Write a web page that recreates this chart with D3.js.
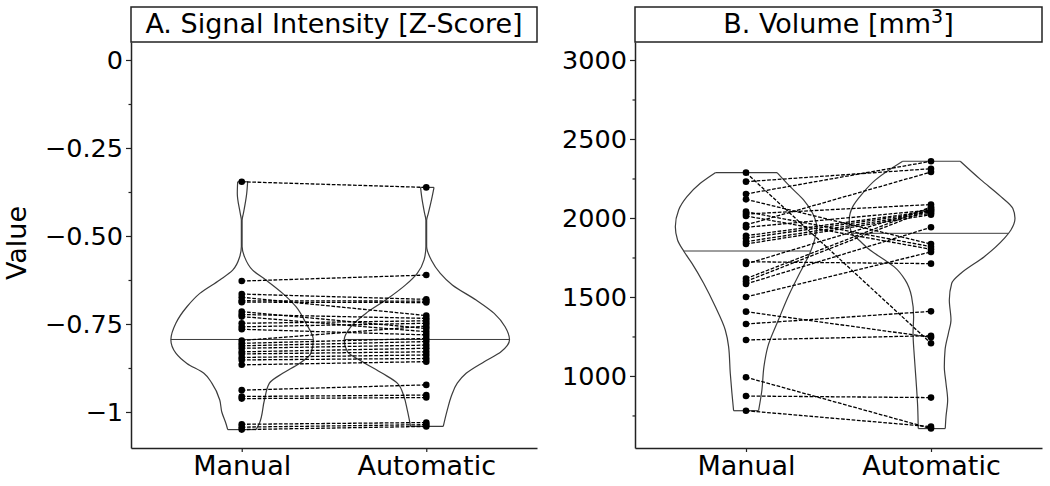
<!DOCTYPE html>
<html>
<head>
<meta charset="utf-8">
<script src="https://cdn.jsdelivr.net/npm/d3@7"></script>
<style>
  html, body { margin: 0; padding: 0; background: #fff; }
  svg { display: block; font-family: "DejaVu Sans", sans-serif; }
</style>
</head>
<body>
<div id="chart"></div>
<script>
// categories (x axis)
const categories = ["Manual", "Automatic"];

// A. signal intensity, paired by subject (manual[i] <-> automatic[i])
const signalManual = [-0.346, -0.628, -0.665, -0.674, -0.684, -0.688, -0.715, -0.723, -0.729,
  -0.748, -0.758, -0.765, -0.797, -0.805, -0.812, -0.819, -0.829, -0.835, -0.845, -0.852,
  -0.866, -0.938, -0.956, -0.962, -1.035, -1.043, -1.050];
const signalAutomatic = [-0.362, -0.611, -0.680, -0.726, -0.685, -0.689, -0.763, -0.734, -0.772,
  -0.741, -0.748, -0.781, -0.756, -0.791, -0.800, -0.810, -0.819, -0.829, -0.838, -0.848,
  -0.857, -0.923, -0.952, -0.959, -1.030, -1.036, -1.041];
const signalCentre = [-0.794, -0.794];
const signalTicks = [0, -0.25, -0.5, -0.75, -1];
const signalTickLabels = ["0", "\u22120.25", "\u22120.50", "\u22120.75", "\u22121"];
const signalMinor = [-0.125, -0.375, -0.625, -0.875];

// B. volume, paired by subject
const volumeManual = [2287, 2230, 2152, 2118, 2040, 2025, 2013, 1956, 1941, 1888, 1872, 1850,
  1835, 1723, 1709, 1616, 1599, 1582, 1500, 1407, 1329, 1228, 992, 873, 780];
const volumeAutomatic = [1207, 2312, 2359, 1835, 1818, 2085, 1802, 2291, 2050, 2044, 2038, 2030,
  2021, 1711, 2063, 2070, 2056, 1941, 1785, 1245, 1409, 1255, 667, 863, 679];
const volumeCentre = [1791, 1903];
const volumeTicks = [3000, 2500, 2000, 1500, 1000];
const volumeTickLabels = ["3000", "2500", "2000", "1500", "1000"];
const volumeMinor = [2750, 2250, 1750, 1250, 750];

// violin half outlines: [value, half width in category units]
const signalManualLeft = [[-0.346, 0.022], [-0.379, 0.024], [-0.436, 0.008], [-0.455, 0.002],
  [-0.530, 0.002], [-0.559, 0.011], [-0.597, 0.049], [-0.625, 0.119], [-0.663, 0.227],
  [-0.701, 0.297], [-0.748, 0.357], [-0.795, 0.384], [-0.833, 0.357], [-0.862, 0.297],
  [-0.890, 0.205], [-0.918, 0.162], [-0.966, 0.119], [-1.000, 0.108], [-1.032, 0.086],
  [-1.050, 0.076]];
const signalManualRight = [[-0.346, 0.032], [-0.379, 0.027], [-0.436, 0.009], [-0.455, 0.002],
  [-0.530, 0.002], [-0.559, 0.015], [-0.597, 0.059], [-0.625, 0.131], [-0.663, 0.222],
  [-0.701, 0.294], [-0.748, 0.348], [-0.795, 0.388], [-0.833, 0.375], [-0.862, 0.312],
  [-0.890, 0.222], [-0.918, 0.150], [-0.966, 0.123], [-1.032, 0.096], [-1.050, 0.077]];
const signalAutoLeft = [[-0.362, 0.031], [-0.388, 0.025], [-0.436, 0.009], [-0.455, 0.002],
  [-0.530, 0.002], [-0.568, 0.012], [-0.606, 0.049], [-0.639, 0.112], [-0.682, 0.220],
  [-0.720, 0.328], [-0.758, 0.409], [-0.795, 0.445], [-0.829, 0.427], [-0.857, 0.346],
  [-0.890, 0.238], [-0.918, 0.157], [-0.956, 0.121], [-0.994, 0.103], [-1.041, 0.085]];
const signalAutoRight = [[-0.362, 0.042], [-0.388, 0.032], [-0.436, 0.011], [-0.455, 0.002],
  [-0.530, 0.002], [-0.568, 0.027], [-0.606, 0.076], [-0.639, 0.141], [-0.682, 0.270],
  [-0.720, 0.368], [-0.758, 0.427], [-0.795, 0.451], [-0.829, 0.405], [-0.857, 0.314],
  [-0.890, 0.216], [-0.918, 0.168], [-0.956, 0.135], [-0.994, 0.114], [-1.041, 0.092]];

const volumeManualLeft = [[2287, 0.166], [2220, 0.247], [2135, 0.319], [2051, 0.364],
  [1945, 0.382], [1861, 0.370], [1791, 0.337], [1713, 0.292], [1587, 0.229], [1439, 0.166],
  [1291, 0.112], [1186, 0.094], [1017, 0.085], [891, 0.076], [780, 0.067]];
const volumeManualRight = [[2287, 0.168], [2198, 0.239], [2114, 0.311], [2030, 0.360],
  [1945, 0.382], [1882, 0.375], [1777, 0.345], [1650, 0.290], [1520, 0.235], [1354, 0.175],
  [1186, 0.118], [1059, 0.097], [911, 0.086], [780, 0.068]];
const volumeAutoLeft = [[2359, 0.153], [2241, 0.300], [2156, 0.370], [2072, 0.423],
  [1987, 0.442], [1903, 0.429], [1861, 0.390], [1797, 0.330], [1734, 0.250], [1692, 0.200],
  [1608, 0.140], [1502, 0.105], [1375, 0.094], [1270, 0.097], [1122, 0.090], [975, 0.081],
  [806, 0.072], [667, 0.069]];
const volumeAutoRight = [[2359, 0.158], [2241, 0.270], [2135, 0.378], [2061, 0.442],
  [1998, 0.454], [1924, 0.432], [1871, 0.396], [1755, 0.288], [1650, 0.162], [1587, 0.112],
  [1481, 0.099], [1354, 0.108], [1270, 0.094], [1165, 0.076], [1059, 0.072], [954, 0.081],
  [848, 0.090], [742, 0.081], [667, 0.077]];

const width = 1050;
const height = 486;
const plotTop = 42;
const plotBottom = 448;
const ink = "#222";

const svg = d3.select("#chart").append("svg")
  .attr("width", width)
  .attr("height", height);

// y label
svg.append("text")
  .attr("transform", "translate(17," + 243 + ") rotate(-90)")
  .attr("text-anchor", "middle")
  .attr("dy", "0.35em")
  .attr("font-size", 27)
  .attr("fill", "#000")
  .text("Value");

// linear interpolation of an outline at a value
const widthAt = (outline, v) => {
  const pts = outline.slice().sort((a, b) => a[0] - b[0]);
  const i = d3.bisector((d) => d[0]).left(pts, v);
  if (i <= 0) return pts[0][1];
  if (i >= pts.length) return pts[pts.length - 1][1];
  const a = pts[i - 1], b = pts[i];
  return a[1] + (b[1] - a[1]) * (v - a[0]) / (b[0] - a[0]);
};

const drawPanel = (p) => {
  const x = d3.scaleLinear().domain([-0.6, 1.6]).range([p.left, p.right]);
  const y = d3.scaleLinear().domain(p.yDomain).range([plotTop, plotBottom]);
  const g = svg.append("g");

  // violins
  p.outlines.forEach(([leftHalf, rightHalf], i) => {
    const leftLine = d3.line()
      .x((d) => x(i - d[1]))
      .y((d) => y(d[0]))
      .curve(d3.curveMonotoneY);
    const rightLine = d3.line()
      .x((d) => x(i + d[1]))
      .y((d) => y(d[0]))
      .curve(d3.curveMonotoneY);
    const vg = g.append("g")
      .attr("fill", "none")
      .attr("stroke", "#3c3c3c")
      .attr("stroke-width", 1.2);
    vg.append("path").attr("d", leftLine(leftHalf));
    vg.append("path").attr("d", rightLine(rightHalf));
    const top = [leftHalf[0], rightHalf[0]];
    const bot = [leftHalf[leftHalf.length - 1], rightHalf[rightHalf.length - 1]];
    vg.append("line")
      .attr("x1", x(i - top[0][1])).attr("x2", x(i + top[1][1]))
      .attr("y1", y(top[0][0])).attr("y2", y(top[1][0]));
    vg.append("line")
      .attr("x1", x(i - bot[0][1])).attr("x2", x(i + bot[1][1]))
      .attr("y1", y(bot[0][0])).attr("y2", y(bot[1][0]));
    // centre line across the violin
    const c = p.centre[i];
    vg.append("line")
      .attr("stroke-width", 1)
      .attr("x1", x(i - widthAt(leftHalf, c)))
      .attr("x2", x(i + widthAt(rightHalf, c)))
      .attr("y1", y(c)).attr("y2", y(c));
  });

  // paired dashed lines
  g.append("g")
    .selectAll("line")
    .data(p.manual.map((m, k) => [m, p.automatic[k]]))
    .join("line")
    .attr("x1", x(0)).attr("x2", x(1))
    .attr("y1", (d) => y(d[0])).attr("y2", (d) => y(d[1]))
    .attr("stroke", "#000")
    .attr("stroke-width", 1.3)
    .attr("stroke-dasharray", "3.7,1.6");

  // points
  [p.manual, p.automatic].forEach((vals, i) => {
    g.append("g")
      .selectAll("circle")
      .data(vals)
      .join("circle")
      .attr("cx", x(i))
      .attr("cy", (d) => y(d))
      .attr("r", 3.3)
      .attr("fill", "#000");
  });

  // axes
  const yAxis = g.append("g")
    .attr("transform", "translate(" + p.left + ",0)")
    .call(d3.axisLeft(y).tickValues(p.ticks)
      .tickFormat((d, k) => p.tickLabels[k])
      .tickSize(5).tickSizeOuter(0).tickPadding(3));
  g.append("g")
    .attr("transform", "translate(" + p.left + ",0)")
    .call(d3.axisLeft(y).tickValues(p.minor).tickFormat("").tickSize(2.5))
    .call((a) => a.select(".domain").remove());
  const xAxis = g.append("g")
    .attr("transform", "translate(0," + plotBottom + ")")
    .call(d3.axisBottom(x).tickValues([0, 1])
      .tickFormat((d) => categories[d])
      .tickSize(4).tickSizeOuter(0).tickPadding(4));
  g.selectAll(".domain").attr("stroke", ink).attr("stroke-width", 1.5);
  g.selectAll(".tick line").attr("stroke", ink).attr("stroke-width", 1.2);
  yAxis.selectAll("text").attr("font-size", 25.5).attr("fill", "#000")
    .attr("font-family", "DejaVu Sans");
  xAxis.selectAll("text").attr("font-size", 27).attr("fill", "#000")
    .attr("font-family", "DejaVu Sans");

  // title box
  g.append("rect")
    .attr("x", p.left).attr("y", 7)
    .attr("width", p.right - p.left).attr("height", plotTop - 7)
    .attr("fill", "#fff")
    .attr("stroke", ink)
    .attr("stroke-width", 1.5);
  const title = g.append("text")
    .attr("x", (p.left + p.right) / 2)
    .attr("y", 33)
    .attr("text-anchor", "middle")
    .attr("font-size", 27)
    .attr("fill", "#000");
  title.append("tspan").text(p.title[0]);
  if (p.title.length > 1) {
    title.append("tspan").attr("font-size", 19).attr("dy", -10).text(p.title[1]);
    title.append("tspan").attr("dy", 10).text(p.title[2]);
  }
};

drawPanel({
  left: 131, right: 537,
  yDomain: [0.0511, -1.1023],
  manual: signalManual,
  automatic: signalAutomatic,
  centre: signalCentre,
  outlines: [[signalManualLeft, signalManualRight], [signalAutoLeft, signalAutoRight]],
  ticks: signalTicks,
  tickLabels: signalTickLabels,
  minor: signalMinor,
  title: ["A. Signal Intensity [Z-Score]"]
});

drawPanel({
  left: 635, right: 1042,
  yDomain: [3114, 544],
  manual: volumeManual,
  automatic: volumeAutomatic,
  centre: volumeCentre,
  outlines: [[volumeManualLeft, volumeManualRight], [volumeAutoLeft, volumeAutoRight]],
  ticks: volumeTicks,
  tickLabels: volumeTickLabels,
  minor: volumeMinor,
  title: ["B. Volume [mm", "3", "]"]
});
</script>
</body>
</html>
